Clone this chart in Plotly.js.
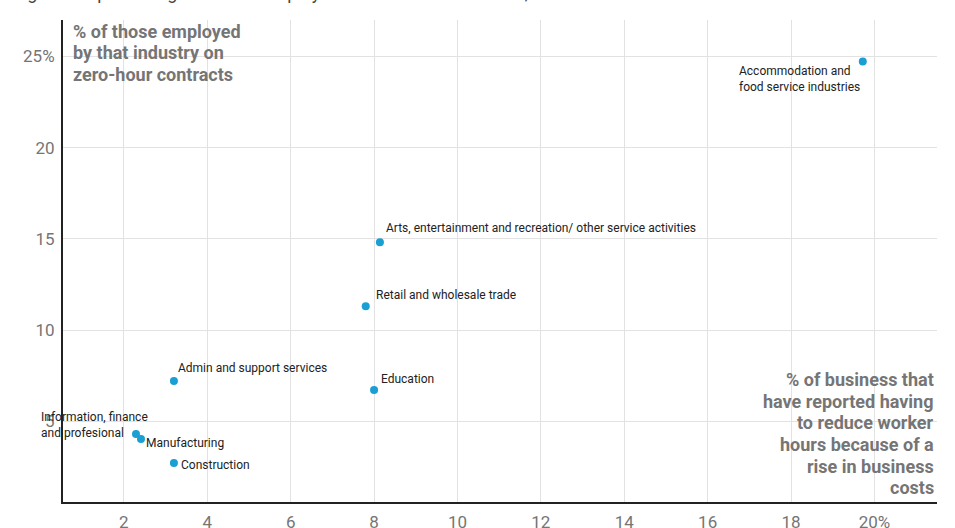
<!DOCTYPE html>
<html>
<head>
<meta charset="utf-8">
<script src="https://cdn.plot.ly/plotly-3.0.1.min.js"></script>
<style>html,body{margin:0;padding:0;background:#fff;}#chart{width:955px;height:528px;}</style>
</head>
<body>
<div id="chart"></div>
<script>
// Data
const industries = [
  "Accommodation and<br>food service industries",
  "Arts, entertainment and recreation/ other service activities",
  "Retail and wholesale trade",
  "Admin and support services",
  "Education",
  "Information, finance<br>and profesional",
  "Manufacturing",
  "Construction"
];
const reducedHoursPct = [19.72, 8.14, 7.80, 3.20, 8.00, 2.29, 2.41, 3.20];
const zeroHourPct = [24.73, 14.81, 11.31, 7.20, 6.71, 4.30, 4.02, 2.71];
const xTickVals = [2, 4, 6, 8, 10, 12, 14, 16, 18, 20];
const xTickText = ["2", "4", "6", "8", "10", "12", "14", "16", "18", "20%"];
const yTickVals = [5, 10, 15, 20, 25];
const yTickText = ["5", "10", "15", "20", "25%"];
const chartTitle = "Higher the percentage of those employed on zero-hour contracts, the more businesses cut hours";
const yTitleLines = ["% of those employed", "by that industry on", "zero-hour contracts"];
const xTitleLines = ["% of business that", "have reported having", "to reduce worker", "hours because of a", "rise in business", "costs"];

// Label placement (style)
const labelStyle = [
  {xanchor: "right", xshift: -1, yshift: -18},
  {xanchor: "left", xshift: 4, yshift: 14},
  {xanchor: "left", xshift: 8, yshift: 11},
  {xanchor: "left", xshift: 2, yshift: 13},
  {xanchor: "left", xshift: 5, yshift: 11},
  {xanchor: "left", xshift: -97, yshift: 9},
  {xanchor: "left", xshift: 3, yshift: -4},
  {xanchor: "left", xshift: 5, yshift: -2}
];

const labelAnnotations = industries.map((t, i) => ({
  x: reducedHoursPct[i], y: zeroHourPct[i], xref: "x", yref: "y",
  text: t, showarrow: false, align: "left",
  xanchor: labelStyle[i].xanchor, yanchor: "middle",
  xshift: labelStyle[i].xshift, yshift: labelStyle[i].yshift,
  font: {family: "Roboto, sans-serif", size: 12, color: "#222222"}
}));

const titleFont = {family: "Roboto, sans-serif", size: 18, color: "#757575", weight: "bold"};
const yTitleShifts = [-11, -32, -54];
const yTitleAnnotations = yTitleLines.map((t, i) => ({
  xref: "paper", yref: "paper", x: 0, y: 1, xanchor: "left", yanchor: "middle",
  xshift: 8, yshift: yTitleShifts[i], text: t, showarrow: false, font: titleFont
}));
const xTitleShifts = [123, 101, 80, 58, 36, 15];
const xTitleAnnotations = xTitleLines.map((t, i) => ({
  xref: "paper", yref: "paper", x: 1, y: 0, xanchor: "right", yanchor: "middle",
  xshift: -1, yshift: xTitleShifts[i], text: t, showarrow: false, font: titleFont
}));

const trace = {
  x: reducedHoursPct, y: zeroHourPct, type: "scatter", mode: "markers",
  marker: {color: "#1a9fd4", size: 8},
  hoverinfo: "none"
};

const layout = {
  width: 955, height: 528,
  margin: {l: 63, r: 18, t: 20, b: 26},
  paper_bgcolor: "#ffffff", plot_bgcolor: "#ffffff",
  showlegend: false,
  font: {family: "Roboto, sans-serif"},
  xaxis: {
    range: [0.54, 21.5], tickvals: xTickVals, ticktext: xTickText,
    showgrid: true, gridcolor: "#e2e2e2", gridwidth: 1,
    zeroline: false, showline: true, linecolor: "#222222", linewidth: 2,
    ticks: "", ticklabelstandoff: 4,
    tickfont: {family: "Roboto, sans-serif", size: 17, color: "#757575"}
  },
  yaxis: {
    range: [0.57, 27], tickvals: yTickVals, ticktext: yTickText,
    showgrid: true, gridcolor: "#e2e2e2", gridwidth: 1,
    zeroline: false, showline: true, linecolor: "#222222", linewidth: 2,
    ticks: "", ticklabelstandoff: 3,
    tickfont: {family: "Roboto, sans-serif", size: 17, color: "#757575"}
  },
  annotations: labelAnnotations.concat(yTitleAnnotations, xTitleAnnotations, [
    {xref: "paper", yref: "paper", x: -0.063, y: 1.027, xanchor: "left", yanchor: "bottom",
     yshift: 2, text: chartTitle, showarrow: false, align: "left",
     font: {family: "Roboto, sans-serif", size: 18, color: "#444444"}}
  ])
};

Plotly.newPlot("chart", [trace], layout, {displayModeBar: false, staticPlot: true});
</script>
</body>
</html>
